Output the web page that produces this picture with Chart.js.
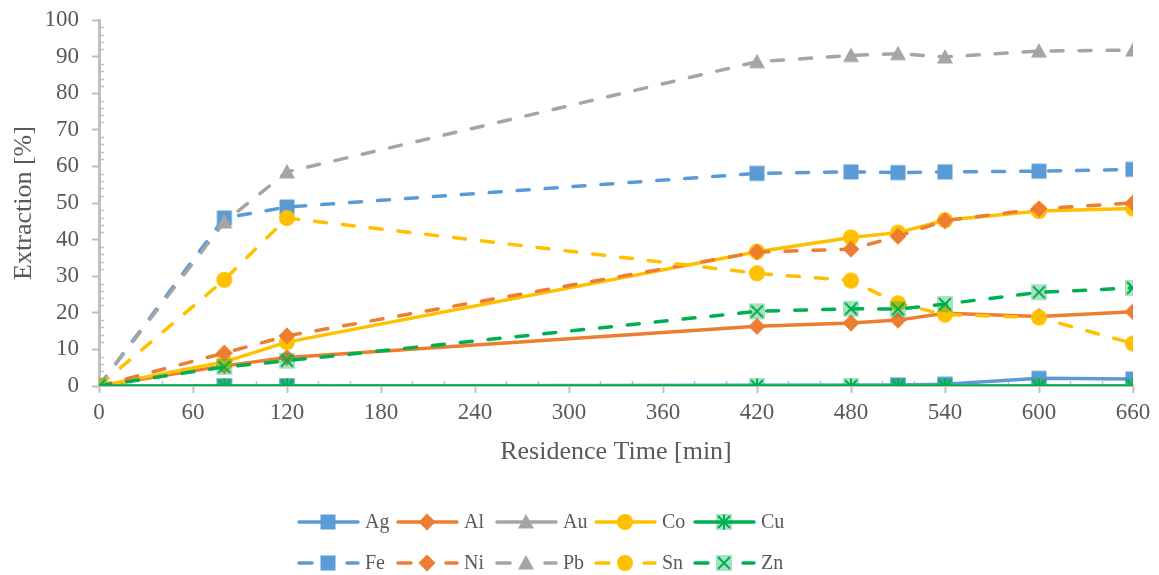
<!DOCTYPE html>
<html>
<head>
<meta charset="utf-8">
<script src="https://cdn.jsdelivr.net/npm/chart.js@4.4.1/dist/chart.umd.min.js"></script>
<style>
  html, body { margin: 0; padding: 0; background: #fff; }
  #chart { display: block; }
</style>
</head>
<body>
<canvas id="chart" width="1159" height="575"></canvas>
<script>
// --- Data ---
const timeMin = [0, 80, 120, 420, 480, 510, 540, 600, 660];
const metals = ['Ag', 'Al', 'Au', 'Co', 'Cu', 'Fe', 'Ni', 'Pb', 'Sn', 'Zn'];

// null = no marker visible in the reference at that time
const agVals = [0, 0, 0, null, null, 0.3, 0.5, 2.1, 1.9];
const alVals = [0, 5.5, 7.8, 16.3, 17.2, 18.0, 19.9, 19.0, 20.3];
const auVals = [0, 0, 0, null, null, 0, 0, 0, 0];
const coVals = [0, 6.6, 12.0, 36.7, 40.6, 41.9, 45.3, 47.8, 48.5];
const cuVals = [0, 0, 0, 0, 0, 0, 0, 0, 0];
const feVals = [0, 45.9, 48.9, 58.1, 58.5, 58.3, 58.5, 58.7, 59.2];
const niVals = [0, 9.0, 13.7, 36.6, 37.4, 40.9, 45.2, 48.4, 50.0];
const pbVals = [0, 44.8, 58.5, 88.6, 90.3, 90.8, 89.9, 91.5, 91.8];
const snVals = [0, 29.0, 45.9, 30.8, 28.8, 22.6, 19.5, 18.7, 11.6];
const znVals = [0, 5.2, 6.9, 20.4, 21.1, 21.0, 22.4, 25.6, 26.8];

const seriesVals = [agVals, alVals, auVals, coVals, cuVals, feVals, niVals, pbVals, snVals, znVals];

const xTicks = [0, 60, 120, 180, 240, 300, 360, 420, 480, 540, 600, 660];
const yTicks = [0, 10, 20, 30, 40, 50, 60, 70, 80, 90, 100];

// --- Styling ---
const BLUE = '#5B9BD5', ORANGE = '#ED7D31', GRAY = '#A5A5A5', YELLOW = '#FFC000', GREEN = '#00B050';
const TEXT = '#595959', AXIS = '#BFBFBF';
const SERIF = '"Liberation Serif", "Times New Roman", serif';
const DASH = [12, 16];
const LINE_W = 3.5;

// marker canvases, drawn once and reused for the plot and the legend
function makeMarker(shape, color) {
    const s = 20;
    const c = document.createElement('canvas');
    c.width = s; c.height = s;
    const g = c.getContext('2d');
    const m = s / 2;
    g.fillStyle = color;
    g.strokeStyle = color;
    if (shape === 'square') {
        g.fillRect(m - 7.5, m - 7.5, 15, 15);
    } else if (shape === 'diamond') {
        g.beginPath();
        g.moveTo(m, m - 8.5); g.lineTo(m + 8.5, m); g.lineTo(m, m + 8.5); g.lineTo(m - 8.5, m);
        g.closePath(); g.fill();
    } else if (shape === 'triangle') {
        g.beginPath();
        g.moveTo(m, m - 8); g.lineTo(m + 8, m + 6.5); g.lineTo(m - 8, m + 6.5);
        g.closePath(); g.fill();
    } else if (shape === 'circle') {
        g.beginPath();
        g.arc(m, m, 8, 0, Math.PI * 2); g.fill();
    } else if (shape === 'star' || shape === 'x') {
        g.fillStyle = 'rgba(0,176,80,0.35)';
        g.fillRect(m - 8, m - 8, 16, 16);
        g.lineWidth = 2;
        g.beginPath();
        g.moveTo(m - 6, m - 6); g.lineTo(m + 6, m + 6);
        g.moveTo(m + 6, m - 6); g.lineTo(m - 6, m + 6);
        if (shape === 'star') { g.moveTo(m, m - 7.5); g.lineTo(m, m + 7.5); }
        g.stroke();
    }
    return c;
}

const styles = [
    { color: BLUE, marker: 'square', dash: [] },
    { color: ORANGE, marker: 'diamond', dash: [] },
    { color: GRAY, marker: 'triangle', dash: [] },
    { color: YELLOW, marker: 'circle', dash: [] },
    { color: GREEN, marker: 'star', dash: [] },
    { color: BLUE, marker: 'square', dash: DASH },
    { color: ORANGE, marker: 'diamond', dash: DASH },
    { color: GRAY, marker: 'triangle', dash: DASH },
    { color: YELLOW, marker: 'circle', dash: DASH },
    { color: GREEN, marker: 'x', dash: DASH }
];

const datasets = metals.map((name, i) => {
    const st = styles[i];
    return {
        label: name,
        data: timeMin.map((t, k) => ({ x: t, y: seriesVals[i][k] })),
        borderColor: st.color,
        backgroundColor: st.color,
        borderWidth: LINE_W,
        borderDash: st.dash,
        borderCapStyle: st.dash.length ? 'round' : 'butt',
        pointStyle: makeMarker(st.marker, st.color),
        pointRadius: 8,
        pointHoverRadius: 8,
        spanGaps: true,
        tension: 0,
        order: metals.length - i // later series on top, like the original
    };
});

// minor tick marks on the inside of both axes
const minorTicks = {
    id: 'minorTicks',
    beforeDatasetsDraw(chart) {
        const { ctx, scales: { x, y } } = chart;
        ctx.save();
        ctx.strokeStyle = AXIS;
        ctx.lineWidth = 1.5;
        ctx.beginPath();
        for (let v = 2; v < 100; v += 2) {
            if (v % 10 === 0) continue;
            const py = Math.round(y.getPixelForValue(v)) + 0.5;
            ctx.moveTo(x.left, py); ctx.lineTo(x.left + 5, py);
        }
        for (let v = 20; v < 660; v += 20) {
            if (v % 60 === 0) continue;
            const px = Math.round(x.getPixelForValue(v)) + 0.5;
            ctx.moveTo(px, y.bottom); ctx.lineTo(px, y.bottom - 5);
        }
        ctx.stroke();
        ctx.restore();
    }
};

// two-row legend with line + marker samples, Excel style
const lineLegend = {
    id: 'lineLegend',
    afterDraw(chart) {
        const ctx = chart.ctx;
        ctx.save();
        ctx.font = '20px ' + SERIF;
        ctx.textBaseline = 'middle';
        chart.data.datasets.forEach((ds, i) => {
            const x0 = 298 + (i % 5) * 99;
            const yy = i < 5 ? 522 : 563;
            ctx.strokeStyle = ds.borderColor;
            ctx.lineWidth = LINE_W;
            ctx.lineCap = 'round';
            ctx.beginPath();
            if (ds.borderDash.length) {
                ctx.moveTo(x0 + 1, yy); ctx.lineTo(x0 + 14, yy);
                ctx.moveTo(x0 + 49, yy); ctx.lineTo(x0 + 60, yy);
            } else {
                ctx.moveTo(x0 + 1, yy); ctx.lineTo(x0 + 60, yy);
            }
            ctx.stroke();
            const mk = ds.pointStyle;
            ctx.drawImage(mk, x0 + 30 - mk.width / 2, yy - mk.height / 2);
            ctx.fillStyle = TEXT;
            ctx.fillText(ds.label, x0 + 67, yy + 1);
        });
        ctx.restore();
    }
};

new Chart(document.getElementById('chart'), {
    type: 'line',
    data: { datasets },
    plugins: [minorTicks, lineLegend],
    options: {
        responsive: false,
        devicePixelRatio: 1,
        animation: false,
        layout: { padding: { left: 5, right: 26, top: 20, bottom: 103 } },
        plugins: {
            legend: { display: false },
            tooltip: { enabled: false }
        },
        scales: {
            x: {
                type: 'linear',
                min: 0, max: 660,
                afterFit: s => { s.height = 86; },
                afterBuildTicks: s => { s.ticks = xTicks.map(v => ({ value: v })); },
                ticks: { font: { family: SERIF, size: 23 }, color: TEXT, padding: 6, maxRotation: 0 },
                grid: { drawOnChartArea: false, tickLength: 7, tickColor: AXIS, tickWidth: 2 },
                border: { color: AXIS, width: 2 },
                title: { display: true, text: 'Residence Time [min]', font: { family: SERIF, size: 26 }, color: TEXT }
            },
            y: {
                min: 0, max: 100,
                afterFit: s => { s.width = 94; s.paddingTop = 0; s.paddingBottom = 0; },
                afterBuildTicks: s => { s.ticks = yTicks.map(v => ({ value: v })); },
                ticks: { font: { family: SERIF, size: 23 }, color: TEXT, padding: 13 },
                grid: { drawOnChartArea: false, tickLength: 7, tickColor: AXIS, tickWidth: 2 },
                border: { color: AXIS, width: 3 },
                title: { display: true, text: 'Extraction [%]', font: { family: SERIF, size: 26 }, color: TEXT }
            }
        }
    }
});
</script>
</body>
</html>
